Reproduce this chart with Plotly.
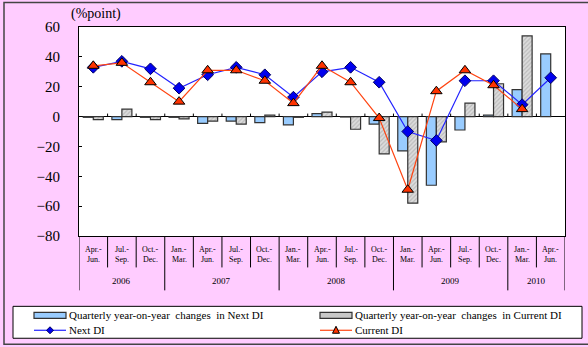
import plotly.graph_objects as go

# ---- data ---------------------------------------------------------------
quarters = ["Apr.-Jun.", "Jul.-Sep.", "Oct.-Dec.",
            "Jan.-Mar.", "Apr.-Jun.", "Jul.-Sep.", "Oct.-Dec.",
            "Jan.-Mar.", "Apr.-Jun.", "Jul.-Sep.", "Oct.-Dec.",
            "Jan.-Mar.", "Apr.-Jun.", "Jul.-Sep.", "Oct.-Dec.",
            "Jan.-Mar.", "Apr.-Jun."]
years = ["2006", "2007", "2008", "2009", "2010"]
quarters_per_year = [3, 4, 4, 4, 2]

next_di = [33, 37, 32, 19, 28, 33, 28, 13, 30, 33, 23, -10, -16, 24, 24, 8, 26]
current_di = [34, 36, 23, 10, 31, 31, 24, 9, 34, 23, -1, -49, 17, 31, 21, 5, None]
next_di_change = [-0.5, -2, -0.5, -0.5, -4.5, -3, -4, -5.5, 2, -0.3, -5, -23, -46, -9, 1, 18, 42]
current_di_change = [-2, 5, -2, -1.5, -3, -5, 1, -0.5, 3, -8.5, -25, -58, -17, 9, 22, 54, None]

y_ticks = [60, 40, 20, 0, -20, -40, -60, -80]

# ---- geometry helpers (pixel -> paper) -----------------------------------
W_FIG, H_FIG = 588, 347
L, R, T, B = 79, 565, 27, 236.5
PW, PH = R - L, B - T


def fx(p):
    return (p - L) / PW


def fy(p):
    return (B - p) / PH


SERIF = "Liberation Serif"
idx = list(range(len(quarters)))

fig = go.Figure()

fig.add_trace(go.Bar(
    x=idx, y=next_di_change, name="Quarterly year-on-year changes in Next DI",
    marker=dict(color="#99CCFF", line=dict(color="#333333", width=1.2)),
    showlegend=False,
))
fig.add_trace(go.Bar(
    x=idx, y=current_di_change, name="Quarterly year-on-year changes in Current DI",
    marker=dict(color="#d6d6d6", line=dict(color="#333333", width=1.2),
                pattern=dict(shape="/", size=3, fgcolor="#9a9a9a", bgcolor="#dcdcdc", solidity=0.4)),
    showlegend=False,
))
fig.add_trace(go.Scatter(
    x=idx, y=next_di, name="Next DI", mode="lines+markers",
    line=dict(color="#2222FF", width=1.2),
    marker=dict(symbol="diamond", size=9, color="#0000EE", line=dict(color="#000060", width=1)),
    showlegend=False, cliponaxis=False,
))
fig.add_trace(go.Scatter(
    x=idx, y=current_di, name="Current DI", mode="lines+markers",
    line=dict(color="#FF4411", width=1.2),
    marker=dict(symbol="triangle-up", size=10, color="#FF3300", line=dict(color="#000000", width=1)),
    showlegend=False, cliponaxis=False,
))

shapes = []
annotations = []

# small marks on the zero line between quarters
for k in range(1, len(quarters)):
    shapes.append(dict(type="line", xref="x", yref="y", x0=k - 0.5, x1=k - 0.5, y0=0, y1=2,
                       line=dict(color="#000000", width=1)))

# category axis: quarter separators and year separators
year_edges = [0]
for n in quarters_per_year:
    year_edges.append(year_edges[-1] + n)
for k in range(len(quarters) + 1):
    long_line = k in year_edges
    shapes.append(dict(type="line", xref="x", yref="paper", x0=k - 0.5, x1=k - 0.5,
                       y0=0, y1=fy(291 if long_line else 268),
                       line=dict(color="#000000", width=1)))

for i, q in enumerate(quarters):
    first, second = q.split("-")
    annotations.append(dict(x=i, y=fy(250.5), xref="x", yref="paper", text=first + "-",
                            showarrow=False, font=dict(family=SERIF, size=8, color="#000000"),
                            xanchor="center", yanchor="middle"))
    annotations.append(dict(x=i, y=fy(260.5), xref="x", yref="paper", text=second,
                            showarrow=False, font=dict(family=SERIF, size=8, color="#000000"),
                            xanchor="center", yanchor="middle"))

for y, a, b in zip(years, year_edges[:-1], year_edges[1:]):
    annotations.append(dict(x=(a + b - 1) / 2, y=fy(282), xref="x", yref="paper", text=y,
                            showarrow=False, font=dict(family=SERIF, size=9, color="#000000"),
                            xanchor="center", yanchor="middle"))

# unit label
annotations.append(dict(x=fx(69), y=fy(14), xref="paper", yref="paper", text="(%point)",
                        showarrow=False, font=dict(family=SERIF, size=14, color="#000000"),
                        xanchor="left", yanchor="middle"))

# outer frame
shapes.append(dict(type="rect", xref="paper", yref="paper", x0=fx(4), x1=fx(600),
                   y0=fy(345), y1=fy(2.5), line=dict(color="#444444", width=1.5)))

# legend box
shapes.append(dict(type="rect", xref="paper", yref="paper", x0=fx(13), x1=fx(582),
                   y0=fy(339), y1=fy(307), fillcolor="#FFFFFF", line=dict(color="#000000", width=1)))

row1, row2 = 316, 331
col1, col2 = 34, 320
sw = 32
# bar swatches
shapes.append(dict(type="rect", xref="paper", yref="paper", x0=fx(col1), x1=fx(col1 + sw),
                   y0=fy(row1 + 3), y1=fy(row1 - 3), fillcolor="#99CCFF",
                   line=dict(color="#333333", width=1.2)))
shapes.append(dict(type="rect", xref="paper", yref="paper", x0=fx(col2), x1=fx(col2 + sw),
                   y0=fy(row1 + 3), y1=fy(row1 - 3), fillcolor="#c8c8c8",
                   line=dict(color="#333333", width=1.2)))
# line swatches
shapes.append(dict(type="line", xref="paper", yref="paper", x0=fx(col1), x1=fx(col1 + sw),
                   y0=fy(row2), y1=fy(row2), line=dict(color="#2222FF", width=1.2)))
shapes.append(dict(type="line", xref="paper", yref="paper", x0=fx(col2), x1=fx(col2 + sw),
                   y0=fy(row2), y1=fy(row2), line=dict(color="#FF4411", width=1.2)))
cx1 = col1 + sw / 2
shapes.append(dict(type="path", xref="paper", yref="paper",
                   path=f"M {fx(cx1 - 3.5)} {fy(row2)} L {fx(cx1)} {fy(row2 - 3.5)} "
                        f"L {fx(cx1 + 3.5)} {fy(row2)} L {fx(cx1)} {fy(row2 + 3.5)} Z",
                   fillcolor="#0000EE", line=dict(color="#000060", width=1)))
cx2 = col2 + sw / 2
shapes.append(dict(type="path", xref="paper", yref="paper",
                   path=f"M {fx(cx2 - 3.5)} {fy(row2 + 3)} L {fx(cx2)} {fy(row2 - 4)} "
                        f"L {fx(cx2 + 3.5)} {fy(row2 + 3)} Z",
                   fillcolor="#FF3300", line=dict(color="#000000", width=1)))

legend_texts = [(col1 + sw + 1, row1, "Quarterly year-on-year  changes  in Next DI"),
                (col2 + sw + 1, row1, "Quarterly year-on-year  changes  in Current DI"),
                (col1 + sw + 1, row2, "Next DI"),
                (col2 + sw + 1, row2, "Current DI")]
for x, y, t in legend_texts:
    annotations.append(dict(x=fx(x), y=fy(y), xref="paper", yref="paper", text=t,
                            showarrow=False, font=dict(family=SERIF, size=11, color="#000000"),
                            xanchor="left", yanchor="middle"))

fig.update_layout(
    width=W_FIG, height=H_FIG,
    margin=dict(l=L, r=W_FIG - R, t=T, b=H_FIG - B, pad=0),
    paper_bgcolor="#FFCCFF", plot_bgcolor="#FFFFFF",
    barmode="group", bargap=0.3, bargroupgap=0,
    showlegend=False,
    shapes=shapes, annotations=annotations,
    xaxis=dict(range=[-0.5, len(quarters) - 0.5], showticklabels=False, ticks="",
               showgrid=False, zeroline=False, showline=True, mirror=True,
               linecolor="#000000", linewidth=1),
    yaxis=dict(range=[-80, 60], tickvals=y_ticks, ticks="inside", ticklen=3,
               tickcolor="#000000", showgrid=False, zeroline=True,
               zerolinecolor="#000000", zerolinewidth=1, showline=True, mirror=True,
               linecolor="#000000", linewidth=1, ticklabelstandoff=15,
               tickfont=dict(family=SERIF, size=15, color="#000000")),
)

fig.write_html("out.html")
